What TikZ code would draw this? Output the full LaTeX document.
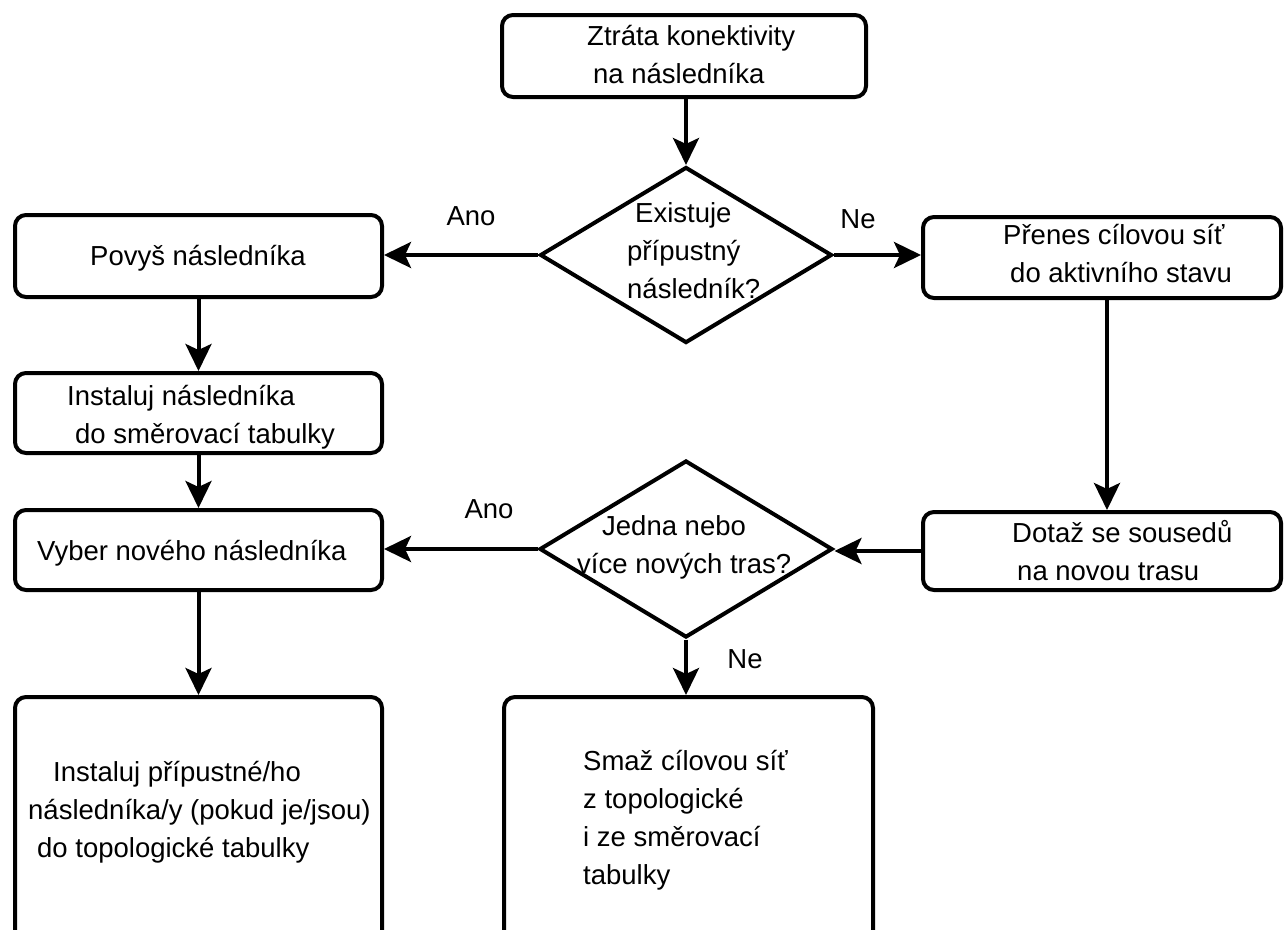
\documentclass[tikz,border=0pt]{standalone}
\usepackage{fontspec}
\setmainfont{Liberation Sans}
\usetikzlibrary{shapes.geometric,arrows.meta}

\begin{document}
\begin{tikzpicture}[x=1pt,y=-1pt,
  every node/.style={font=\fontsize{27.5}{38}\selectfont},
  box/.style={draw,line width=4pt,rounded corners=11pt,inner sep=0pt},
  decision/.style={draw,diamond,line width=4pt,inner sep=0pt},
  txt/.style={anchor=base west,align=left,inner sep=0pt},
  lbl/.style={anchor=base,inner sep=0pt},
  arr/.style={-{Stealth[length=27pt,width=26pt,inset=6pt]},line width=4pt}
]
% canvas
\clip (0,0) rectangle (1284,929);
\fill[white] (0,0) rectangle (1284,929);

% process boxes
\node[box,minimum width=364pt,minimum height=82pt] (start) at (684,56) {};
\node[box,minimum width=367pt,minimum height=82pt] (povys) at (198.5,256) {};
\node[box,minimum width=367pt,minimum height=80pt] (instal) at (198.5,413) {};
\node[box,minimum width=367pt,minimum height=80pt] (vyber) at (198.5,550) {};
\node[box,minimum width=367pt,minimum height=253pt] (topo) at (198.5,823.5) {};
\node[box,minimum width=358pt,minimum height=81pt] (prenes) at (1102,257.5) {};
\node[box,minimum width=358pt,minimum height=78pt] (dotaz) at (1102,551) {};
\node[box,minimum width=369pt,minimum height=253pt] (smaz) at (688.5,823.5) {};

% decisions
\node[decision,minimum width=292pt,minimum height=176pt] (d1) at (686,255) {};
\node[decision,minimum width=293pt,minimum height=177pt] (d2) at (686,549) {};

% texts (anchored at the baseline of their last line)
\node[txt] (tstart) at (587,83) {Ztráta konektivity\\\hspace*{6pt}na následníka};
\node[txt] (td1) at (627,298) {\hspace*{8pt}Existuje\\přípustný\\následník?};
\node[txt] (tpovys) at (90,265) {Povyš následníka};
\node[txt] (tinstal) at (67,443) {Instaluj následníka\\\hspace*{8pt}do směrovací tabulky};
\node[txt] (tvyber) at (37,560) {Vyber nového následníka};
\node[txt] (ttopo) at (28,857) {\hspace*{25pt}Instaluj přípustné/ho\\následníka/y (pokud je/jsou)\\\hspace*{9pt}do topologické tabulky};
\node[txt] (tprenes) at (1003,282) {Přenes cílovou síť\\\hspace*{7pt}do aktivního stavu};
\node[txt] (tdotaz) at (1012,580) {Dotaž se sousedů\\\hspace*{5pt}na novou trasu};
\node[txt] (td2) at (577,573) {\hspace*{25pt}Jedna nebo\\více nových tras?};
\node[txt] (tsmaz) at (583,884) {Smaž cílovou síť\\z topologické\\i ze směrovací\\tabulky};

% branch labels
\node[lbl] (ano1) at (471,225) {Ano};
\node[lbl] (ne1) at (858,228) {Ne};
\node[lbl] (ano2) at (489,518) {Ano};
\node[lbl] (ne2) at (745,668) {Ne};

% connectors
\draw[arr] (start.south -| d1.north) -- (d1.north);
\draw[arr] (d1.west) -- (d1.west -| povys.east);
\draw[arr] (d1.east) -- (d1.east -| prenes.west);
\draw[arr] (povys.south) -- (instal.north);
\draw[arr] (instal.south) -- (vyber.north);
\draw[arr] (vyber.south) -- (topo.north);
\draw[arr] ([xshift=5pt]prenes.south) -- ([xshift=5pt]dotaz.north);
\draw[arr] (dotaz.west) -- (dotaz.west -| d2.east);
\draw[arr] (d2.west) -- (d2.west -| vyber.east);
\draw[arr] (d2.south) -- (d2.south |- smaz.north);
\end{tikzpicture}
\end{document}
